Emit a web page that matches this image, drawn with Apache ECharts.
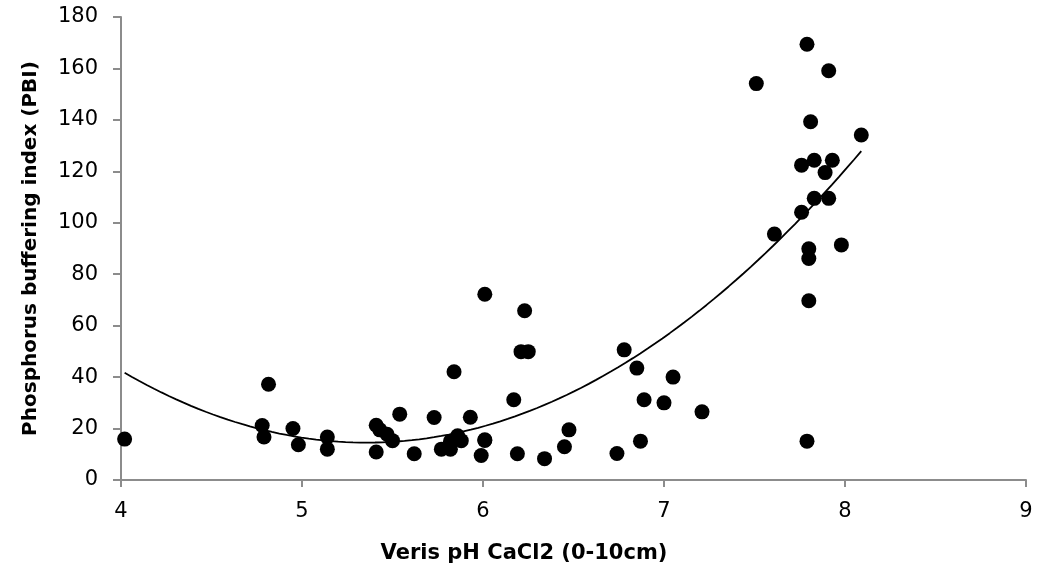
<!DOCTYPE html>
<html>
<head>
<meta charset="utf-8">
<script src="https://cdn.jsdelivr.net/npm/echarts@6/dist/echarts.min.js"></script>
<style>
  html, body { margin: 0; padding: 0; background: #fff; }
  #main { width: 1037px; height: 576px; }
</style>
</head>
<body>
<div id="main"></div>
<script>
// Veris pH CaCl2 (x) vs PBI (y)
var phValues = [
  4.02, 4.815, 4.78, 4.79, 4.95, 4.98, 5.14, 5.14, 5.41, 5.41,
  5.43, 5.47, 5.50, 5.54, 5.62, 5.73, 5.77, 5.82, 5.84, 5.86,
  5.82, 5.88, 5.93, 6.01, 5.99, 6.17, 6.19, 6.21, 6.01, 6.23,
  6.25, 6.01, 6.34, 6.45, 6.475, 6.74, 6.78, 6.85, 6.89, 6.87,
  7.00, 7.05, 7.21, 7.51, 7.79, 7.91, 7.81, 8.09, 7.76, 7.83,
  7.93, 7.89, 7.83, 7.91, 7.76, 7.61, 7.80, 7.80, 7.98, 7.80,
  7.79
];
var pbiValues = [
  15.9, 37.2, 21.2, 16.7, 20.0, 13.7, 16.7, 12.0, 10.9, 21.3,
  19.5, 17.8, 15.3, 25.6, 10.2, 24.3, 12.0, 12.0, 42.1, 17.2,
  15.0, 15.3, 24.4, 15.6, 9.5, 31.2, 10.2, 49.9, 72.2, 65.8,
  49.9, 15.4, 8.3, 12.9, 19.5, 10.3, 50.6, 43.5, 31.2, 15.1,
  30.0, 40.0, 26.5, 154.1, 169.4, 159.1, 139.3, 134.1, 122.4, 124.3,
  124.3, 119.5, 109.5, 109.5, 104.1, 95.6, 89.9, 86.1, 91.4, 69.7,
  15.1
];
var yTicks = [0, 20, 40, 60, 80, 100, 120, 140, 160, 180];
var xTicks = [4, 5, 6, 7, 8, 9];

// least squares quadratic trendline (like the spreadsheet's polynomial fit)
function polyFit2(xs, ys) {
  var n = xs.length, s = [0,0,0,0,0], t = [0,0,0];
  for (var i = 0; i < n; i++) {
    var p = 1;
    for (var k = 0; k < 5; k++) { s[k] += p; if (k < 3) t[k] += p * ys[i]; p *= xs[i]; }
  }
  var m = [[s[0], s[1], s[2], t[0]], [s[1], s[2], s[3], t[1]], [s[2], s[3], s[4], t[2]]];
  for (var c = 0; c < 3; c++) {
    for (var r = c + 1; r < 3; r++) {
      var f = m[r][c] / m[c][c];
      for (var j = c; j < 4; j++) m[r][j] -= f * m[c][j];
    }
  }
  var b = [0,0,0];
  for (var r2 = 2; r2 >= 0; r2--) {
    var v = m[r2][3];
    for (var j2 = r2 + 1; j2 < 3; j2++) v -= m[r2][j2] * b[j2];
    b[r2] = v / m[r2][r2];
  }
  return b;
}

var coef = polyFit2(phValues, pbiValues);
var xMin = Math.min.apply(null, phValues), xMax = Math.max.apply(null, phValues);
var trend = [];
for (var i = 0; i <= 100; i++) {
  var x = xMin + (xMax - xMin) * i / 100;
  trend.push([x, coef[0] + coef[1] * x + coef[2] * x * x]);
}

var points = phValues.map(function (x, i) { return [x, pbiValues[i]]; });

var chart = echarts.init(document.getElementById('main'));
var fontFam = '"DejaVu Sans", sans-serif';
var axisColor = '#8c8c8c';

chart.setOption({
  animation: false,
  grid: { left: 121, right: 11, top: 17, bottom: 96 },
  xAxis: {
    type: 'value', min: 4, max: 9, interval: 1,
    axisLine: { show: true, lineStyle: { color: axisColor, width: 2 } },
    axisTick: { show: true, length: 7, lineStyle: { color: axisColor, width: 2 } },
    splitLine: { show: false },
    axisLabel: { color: '#000', fontSize: 21, fontFamily: fontFam, margin: 21 }
  },
  yAxis: {
    type: 'value', min: 0, max: 180, interval: 20,
    name: 'Phosphorus buffering index (PBI)',
    nameLocation: 'middle', nameGap: 80,
    nameTextStyle: { color: '#000', fontSize: 20, fontWeight: 'bold', fontFamily: fontFam },
    axisLine: { show: true, lineStyle: { color: axisColor, width: 2 } },
    axisTick: { show: true, length: 8, lineStyle: { color: axisColor, width: 2 } },
    splitLine: { show: false },
    axisLabel: { color: '#000', fontSize: 21, fontFamily: fontFam, margin: 23 }
  },
  graphic: [{
    type: 'text', x: 524, y: 554,
    style: { text: 'Veris pH CaCl2 (0-10cm)', fill: '#000', font: 'bold 21px ' + fontFam,
      align: 'center', verticalAlign: 'middle' }
  }],
  series: [{
    type: 'scatter', data: points, symbolSize: 15,
    itemStyle: { color: '#000', opacity: 1 }, z: 3
  }, {
    type: 'line', data: trend, showSymbol: false, smooth: false,
    lineStyle: { color: '#000', width: 1.8 }, z: 2
  }]
});
</script>
</body>
</html>
